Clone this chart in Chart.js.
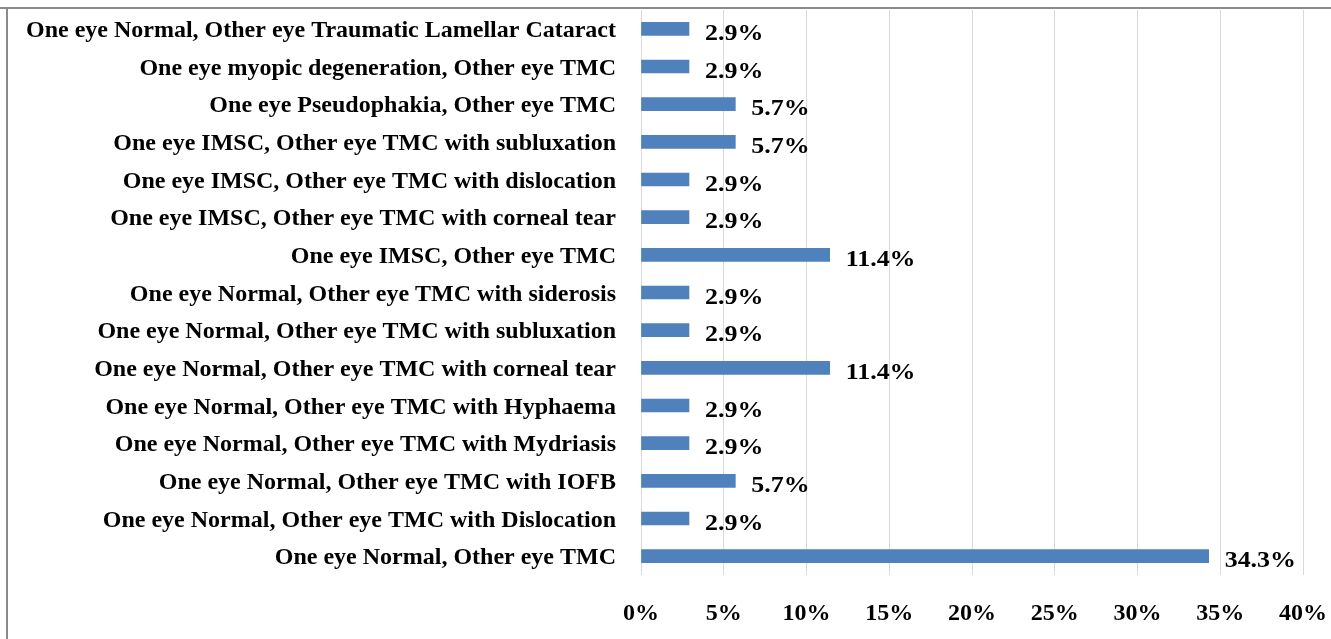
<!DOCTYPE html>
<html>
<head>
<meta charset="utf-8">
<script src="https://cdn.jsdelivr.net/npm/chart.js@4.4.1/dist/chart.umd.min.js"></script>
<style>
html,body{margin:0;padding:0;background:#fff;}
#wrap{width:1331px;height:639px;position:relative;}
</style>
</head>
<body>
<div id="wrap"><canvas id="c" width="1331" height="639"></canvas></div>
<script>
const categories = [
  "One eye Normal, Other eye Traumatic Lamellar Cataract",
  "One eye myopic degeneration, Other eye TMC",
  "One eye Pseudophakia, Other eye TMC",
  "One eye IMSC, Other eye TMC with subluxation",
  "One eye IMSC, Other eye TMC with dislocation",
  "One eye IMSC, Other eye TMC with corneal tear",
  "One eye IMSC, Other eye TMC",
  "One eye Normal, Other eye TMC with siderosis",
  "One eye Normal, Other eye TMC with subluxation",
  "One eye Normal, Other eye TMC with corneal tear",
  "One eye Normal, Other eye TMC with Hyphaema",
  "One eye Normal, Other eye TMC with Mydriasis",
  "One eye Normal, Other eye TMC with IOFB",
  "One eye Normal, Other eye TMC with Dislocation",
  "One eye Normal, Other eye TMC"
];
const percentages = [2.9, 2.9, 5.7, 5.7, 2.9, 2.9, 11.4, 2.9, 2.9, 11.4, 2.9, 2.9, 5.7, 2.9, 34.3];
const xTicks = [0, 5, 10, 15, 20, 25, 30, 35, 40];

const SERIF = "'Liberation Serif','Times New Roman',serif";

const frame = {
  id: 'frame',
  beforeDraw(chart) {
    const ctx = chart.ctx;
    ctx.save();
    ctx.strokeStyle = '#8a8a8a';
    ctx.lineWidth = 2;
    ctx.beginPath();
    ctx.moveTo(0, 8); ctx.lineTo(chart.width, 8);
    ctx.moveTo(7, 8); ctx.lineTo(7, chart.height);
    ctx.stroke();
    ctx.restore();
  }
};

const valueLabels = {
  id: 'valueLabels',
  afterDatasetsDraw(chart) {
    const ctx = chart.ctx;
    const meta = chart.getDatasetMeta(0);
    ctx.save();
    ctx.font = "bold 24px " + SERIF;
    ctx.fillStyle = '#000';
    ctx.textAlign = 'left';
    ctx.textBaseline = 'alphabetic';
    meta.data.forEach((bar, i) => {
      ctx.save();
      ctx.translate(bar.x + 16, bar.y + 11);
      ctx.scale(1.08, 1);
      ctx.fillText(percentages[i].toFixed(1) + '%', 0, 0);
      ctx.restore();
    });
    ctx.restore();
  }
};

new Chart(document.getElementById('c'), {
  type: 'bar',
  data: {
    labels: categories,
    datasets: [{
      data: percentages,
      backgroundColor: '#4F81BD',
      barThickness: 13,
      borderWidth: 0
    }]
  },
  options: {
    indexAxis: 'y',
    responsive: false,
    animation: false,
    layout: { padding: { top: 10, left: 0, right: 28, bottom: 0 } },
    plugins: { legend: { display: false }, tooltip: { enabled: false } },
    scales: {
      x: {
        min: 0, max: 40,
        afterBuildTicks(s) { s.ticks = xTicks.map(v => ({ value: v })); },
        afterFit(s) { s.height = 64; s.paddingLeft = 0; s.paddingRight = 0; },
        grid: { color: '#d9d9d9', lineWidth: 1, drawTicks: false },
        border: { display: false },
        ticks: {
          padding: 24,
          color: '#000',
          maxRotation: 0,
          font: { family: SERIF, size: 24, weight: 'bold' },
          callback: v => v + '%'
        }
      },
      y: {
        afterFit(s) { s.width = 641; s.paddingTop = 0; s.paddingBottom = 0; },
        grid: { display: false, drawTicks: false },
        border: { display: false },
        ticks: {
          padding: 25,
          labelOffset: 2,
          color: '#000',
          font: { family: SERIF, size: 24, weight: 'bold' },
          autoSkip: false
        }
      }
    }
  },
  plugins: [frame, valueLabels]
});
</script>
</body>
</html>
